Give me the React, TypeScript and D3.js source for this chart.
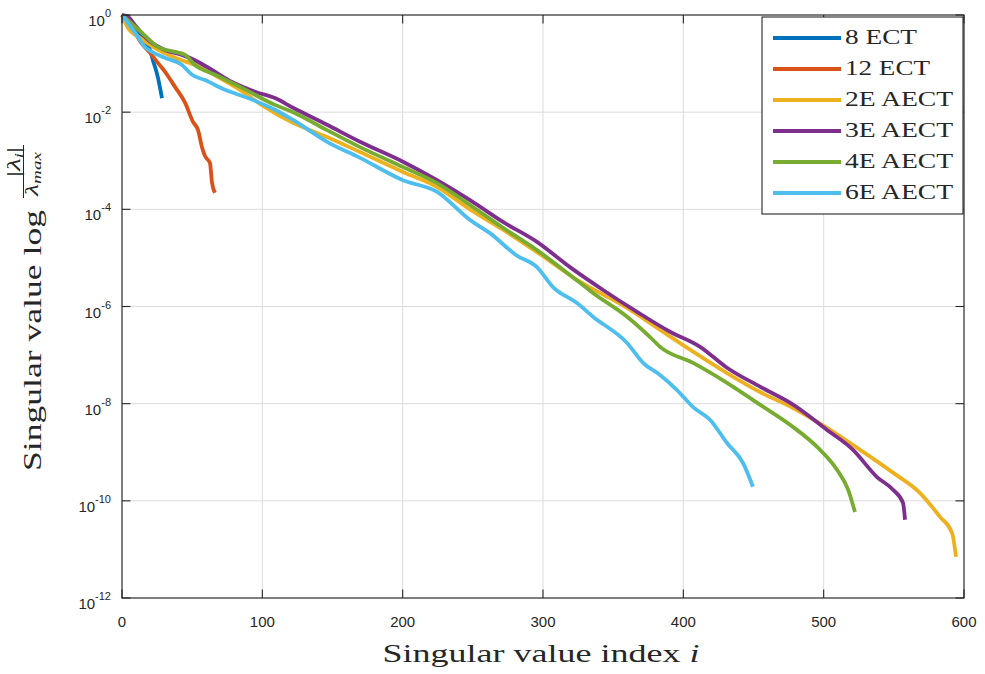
import React from 'react';
import * as d3 from 'd3';

const W = 985;
const H = 674;
const PLOT = { left: 122, right: 964, top: 15, bottom: 598 };

const xTicks = [0, 100, 200, 300, 400, 500, 600];
const yTickExps = [0, -2, -4, -6, -8, -10, -12];

// Each point: [singular value index i, log10(|lambda_i| / lambda_max)]
const ect8: [number, number][] = [
  [0, 0], [9.3, -0.31], [16.4, -0.56], [20, -0.72], [22, -0.93], [24.2, -1.13],
  [25.7, -1.3], [27.1, -1.5], [28.5, -1.71],
];
const ect12: [number, number][] = [
  [0, 0], [7.1, -0.27], [15, -0.62], [20, -0.78], [25.7, -0.99], [30.7, -1.17],
  [37.8, -1.48], [45, -1.81], [50.6, -2.2], [54.2, -2.37], [57, -2.72], [59.1, -2.9],
  [62.7, -3.05], [64.1, -3.44], [66.3, -3.66],
];
const aect2E: [number, number][] = [
  [0, 0], [4.3, -0.27], [12.8, -0.47], [23.5, -0.68], [37.8, -0.88], [55.6, -1.07],
  [69.8, -1.3], [84.1, -1.54], [100.5, -1.87], [121.9, -2.22], [146.1, -2.51],
  [169.6, -2.82], [200.2, -3.23], [224.5, -3.54], [248, -4.0], [271.5, -4.42],
  [295.7, -4.88], [324.2, -5.45], [359.9, -6.03], [383.4, -6.48], [406.9, -6.93],
  [431.1, -7.37], [454.6, -7.76], [478.2, -8.09], [502.4, -8.5], [525.9, -8.95],
  [549.4, -9.42], [568.7, -9.84], [582.9, -10.33], [591.5, -10.66], [594.3, -11.15],
];
const aect3E: [number, number][] = [
  [0, 0], [4.3, -0.04], [9.3, -0.21], [18.5, -0.51], [30.6, -0.72], [42.8, -0.82],
  [52, -0.93], [64.1, -1.13], [78.4, -1.38], [94.8, -1.58], [109, -1.71], [121.9, -1.91],
  [146.1, -2.26], [169.6, -2.61], [200.2, -3.02], [224.5, -3.4], [248, -3.81],
  [271.5, -4.26], [295.7, -4.67], [319.2, -5.19], [342.8, -5.66], [367, -6.11],
  [390.5, -6.52], [411.9, -6.83], [431.1, -7.26], [454.6, -7.65], [478.2, -8.02],
  [502.4, -8.54], [520.9, -8.95], [538, -9.51], [549.4, -9.77], [556.5, -10.04],
  [558, -10.39],
];
const aect4E: [number, number][] = [
  [0, 0], [14.3, -0.37], [25.7, -0.66], [37.8, -0.76], [44.9, -0.82], [52, -1.03],
  [66.3, -1.23], [85.5, -1.5], [109, -1.85], [121.9, -2.0], [146.1, -2.37],
  [169.6, -2.72], [200.2, -3.13], [224.5, -3.46], [248, -3.91], [271.5, -4.38],
  [295.7, -4.84], [319.2, -5.35], [335.6, -5.72], [359.9, -6.21], [376.3, -6.63],
  [383.4, -6.83], [406.9, -7.16], [431.1, -7.57], [454.6, -8.02], [478.2, -8.48],
  [495.3, -8.89], [509.5, -9.36], [517.4, -9.77], [522.3, -10.23],
];
const aect6E: [number, number][] = [
  [0, 0], [11.4, -0.45], [16.4, -0.66], [21.4, -0.76], [30.6, -0.88], [42.8, -1.03],
  [49.9, -1.23], [59.1, -1.34], [73.4, -1.54], [89.8, -1.71], [109, -1.95],
  [121.9, -2.16], [146.1, -2.61], [169.6, -2.94], [200.2, -3.4], [224.5, -3.64],
  [248, -4.22], [262.2, -4.49], [281.2, -4.95], [295.7, -5.19], [307.1, -5.6], [324.2, -5.93],
  [335.6, -6.21], [359.9, -6.75], [371.3, -7.16], [383.4, -7.41], [395.5, -7.72],
  [406.9, -8.07], [419, -8.33], [431.1, -8.81], [442.5, -9.22], [449.6, -9.71],
];

const seriesNames = ['8 ECT', '12 ECT', '2E AECT', '3E AECT', '4E AECT', '6E AECT'];
const seriesData = [ect8, ect12, aect2E, aect3E, aect4E, aect6E];
const seriesColors = ['#0072BD', '#D95319', '#EDB120', '#7E2F8E', '#77AC30', '#4DBEEE'];

const AX = '#262626';
const SANS = '"Liberation Sans", Arial, Helvetica, sans-serif';
const SERIF = '"Liberation Serif", "DejaVu Serif", serif';

export default function App() {
  const x = d3.scaleLinear().domain([0, 600]).range([PLOT.left, PLOT.right]);
  const y = d3.scaleLog().domain([1e-12, 1]).range([PLOT.bottom, PLOT.top]);
  const line = d3
    .line<[number, number]>()
    .curve(d3.curveMonotoneX)
    .x((d) => x(d[0]))
    .y((d) => y(Math.pow(10, d[1])));

  const tickLen = 8.5;
  const legend = { x0: 762, y0: 17, x1: 963, y1: 214 };

  return (
    <svg width={W} height={H} style={{ position: 'absolute', left: 0, top: 0, background: '#fff' }}>
      <rect x={0} y={0} width={W} height={H} fill="#fff" />
      {/* grid */}
      {xTicks.map((t) => (
        <line key={'gx' + t} x1={x(t)} x2={x(t)} y1={PLOT.top} y2={PLOT.bottom} stroke="#dcdcdc" strokeWidth={1} />
      ))}
      {yTickExps.map((e) => (
        <line key={'gy' + e} x1={PLOT.left} x2={PLOT.right} y1={y(Math.pow(10, e))} y2={y(Math.pow(10, e))} stroke="#dcdcdc" strokeWidth={1} />
      ))}
      {/* series */}
      <g fill="none" strokeWidth={3.8} strokeLinejoin="round" strokeLinecap="butt">
        {seriesData.map((d, i) => (
          <path key={seriesNames[i]} d={line(d) || ''} stroke={seriesColors[i]} />
        ))}
      </g>
      {/* axes box */}
      <rect x={PLOT.left} y={PLOT.top} width={PLOT.right - PLOT.left} height={PLOT.bottom - PLOT.top} fill="none" stroke={AX} strokeWidth={1.1} />
      {/* ticks */}
      {xTicks.map((t) => (
        <g key={'tx' + t}>
          <line x1={x(t)} x2={x(t)} y1={PLOT.bottom} y2={PLOT.bottom - tickLen} stroke={AX} strokeWidth={1.1} />
          <line x1={x(t)} x2={x(t)} y1={PLOT.top} y2={PLOT.top + tickLen} stroke={AX} strokeWidth={1.1} />
          <text x={x(t)} y={627} textAnchor="middle" fontFamily={SANS} fontSize={15} fill={AX}>
            {t}
          </text>
        </g>
      ))}
      {yTickExps.map((e) => {
        const yy = y(Math.pow(10, e));
        return (
          <g key={'ty' + e}>
            <line x1={PLOT.left} x2={PLOT.left + tickLen} y1={yy} y2={yy} stroke={AX} strokeWidth={1.1} />
            <line x1={PLOT.right} x2={PLOT.right - tickLen} y1={yy} y2={yy} stroke={AX} strokeWidth={1.1} />
            <text x={111} y={yy + 11} textAnchor="end" fontFamily={SANS} fontSize={15} fill={AX}>
              <tspan>10</tspan>
              <tspan dy={-9} fontSize={11}>{e === 0 ? '0' : '-' + Math.abs(e)}</tspan>
            </text>
          </g>
        );
      })}
      {/* x label */}
      <text x={541} y={662} textAnchor="middle" fontFamily={SERIF} fontSize={26} fill={AX} textLength={317} lengthAdjust="spacingAndGlyphs">
        Singular value index <tspan fontStyle="italic">i</tspan>
      </text>
      {/* y label */}
      <g transform="translate(41,471) rotate(-90)" fontFamily={SERIF} fill={AX}>
        <text x={0} y={0} fontSize={26} textLength={261} lengthAdjust="spacingAndGlyphs">
          Singular value log
        </text>
        {/* fraction |λi| / λmax */}
        <text x={294} y={-21} fontSize={19} textLength={30} lengthAdjust="spacingAndGlyphs">
          <tspan>|</tspan>
          <tspan fontStyle="italic">λ</tspan>
          <tspan fontSize={12} fontStyle="italic" dy={3}>i</tspan>
          <tspan dy={-3}>|</tspan>
        </text>
        <line x1={273} x2={326} y1={-17.5} y2={-17.5} stroke={AX} strokeWidth={1} />
        <text x={275} y={-3} fontSize={19} textLength={44} lengthAdjust="spacingAndGlyphs">
          <tspan fontStyle="italic">λ</tspan>
          <tspan fontSize={13} fontStyle="italic" dy={3}>max</tspan>
        </text>
      </g>
      {/* legend */}
      <rect x={legend.x0} y={legend.y0} width={legend.x1 - legend.x0} height={legend.y1 - legend.y0} fill="#fff" stroke={AX} strokeWidth={1.1} />
      {seriesNames.map((n, i) => {
        const ly = 38 + i * 31;
        return (
          <g key={'lg' + n}>
            <line x1={773} x2={841} y1={ly} y2={ly} stroke={seriesColors[i]} strokeWidth={3.8} />
            <text x={845} y={ly + 6} fontFamily={SERIF} fontSize={21} fill={AX} textLength={n.length === 5 ? 72 : n.length === 6 ? 85 : 108} lengthAdjust="spacingAndGlyphs">
              {n}
            </text>
          </g>
        );
      })}
    </svg>
  );
}
